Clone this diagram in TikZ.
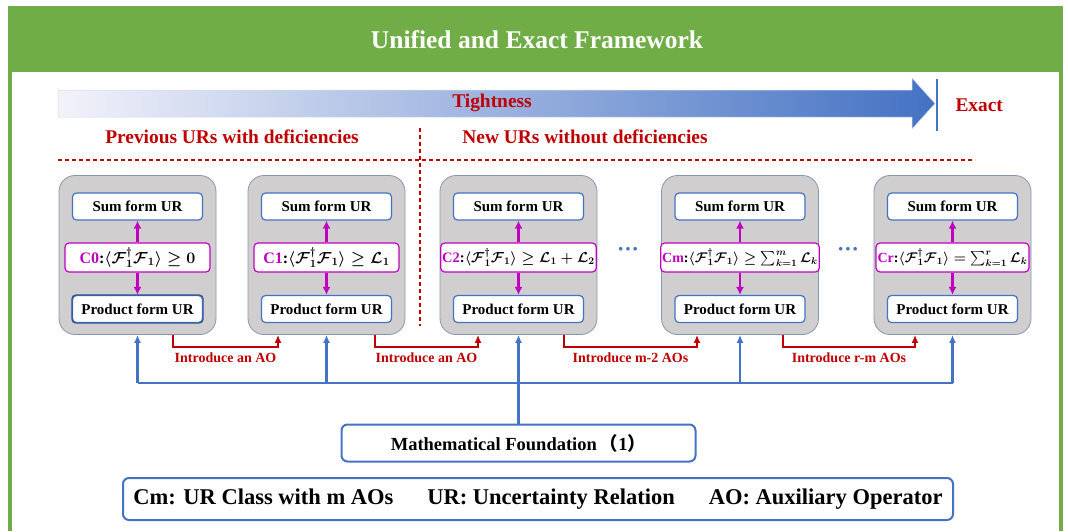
\RequirePackage{fix-cm}
\documentclass[tikz,border=0pt]{standalone}
\usepackage{amsmath,bm}
\usepackage[no-math]{fontspec}
\setmainfont{Liberation Serif}
\newfontfamily\cjk{Noto Sans CJK SC}
\usetikzlibrary{positioning,calc,arrows.meta}

\definecolor{frgreen}{HTML}{70AD47}
\definecolor{urred}{HTML}{C00000}
\definecolor{urblue}{HTML}{4472C4}
\definecolor{urdeep}{HTML}{2F5597}
\definecolor{urmag}{HTML}{C000C0}
\definecolor{urgray}{HTML}{D0CECE}
\definecolor{uredge}{HTML}{8497B0}
\definecolor{tightlo}{HTML}{F2F2FA}

% ky hieu
\newcommand{\FF}{\langle\bm{\mathcal{F}}_{\bm 1}^{\dagger}\bm{\mathcal{F}}_{\bm 1}\rangle}
\newcommand{\LL}[1]{\bm{\mathcal{L}}_{\bm{#1}}}
\newcommand{\sz}[1]{\fontsize{#1}{#1}\selectfont\bfseries}

\tikzset{
  grp/.style={draw=uredge, fill=urgray, rounded corners=16pt, line width=0.8pt,
    minimum width=157pt, minimum height=159pt},
  urbox/.style={draw=urblue, fill=white, rounded corners=4pt, line width=1.2pt,
    minimum width=130pt, minimum height=27pt, inner sep=0pt, font=\sz{15}},
  condbox/.style={draw=urmag, fill=white, rounded corners=4pt, line width=1.2pt,
    minimum width=145pt, minimum height=29pt, inner sep=1.5pt},
  marr/.style={urmag, line width=2.6pt, -{Latex[length=8pt,width=8pt]}},
  aoline/.style={urred, line width=2pt, ->},
  aolab/.style={text=urred, font=\sz{14}, inner sep=1pt},
  busline/.style={urblue, line width=2.5pt},
  busarr/.style={urblue, line width=2.5pt, ->},
  redtxt/.style={text=urred, font=\sz{19.4}},
  bluebox/.style={draw=urblue, rounded corners=6pt, line width=2pt, fill=white},
  redsep/.style={urred, line width=1.2pt, dash pattern=on 4pt off 3pt}
}

\begin{document}
\begin{tikzpicture}[>={Latex[length=8pt,width=7pt]}, x=1pt, y=-1pt]
    \useasboundingbox (0,0) rectangle (1068,531);
    \fill[white] (0,0) rectangle (1068,531);

    % Khung ngoai
    \fill[frgreen] (8,6) rectangle (1063,72);
    \draw[frgreen, line width=4pt] (10,72) -- (10,531);
    \draw[frgreen, line width=4pt] (1061,72) -- (1061,531);
    \node[text=white, font=\sz{25.5}] (title) at (537,40) {Unified and Exact Framework};

    % Mui ten do chat
    \shade[left color=tightlo, right color=urblue, draw=urblue!25, line width=0.5pt]
        (58,90) -- (912,90) -- (912,78) -- (935,103.5) -- (912,129) -- (912,117) -- (58,117) -- cycle;
    \node[redtxt] (tight) at (492,103) {Tightness};
    \draw[urblue, line width=2.5pt] (937,79) -- (937,131);
    \node[redtxt, anchor=west] (exact) at (952,105) {Exact};

    % Hai nhom
    \node[redtxt] (prev) at (232,137) {Previous URs with deficiencies};
    \node[redtxt] (new) at (585,137) {New URs without deficiencies};
    \draw[redsep] (58,160) -- (975,160);
    \draw[redsep] (420,128) -- (420,326);

    % Cac lop UR
    \foreach \i/\x/\fs/\lab/\rel in {1/137.5/16/C0/{\geq \bm{0}},
                                     2/326.5/16/C1/{\geq \LL{1}},
                                     3/518.5/14.5/C2/{\geq \LL{1}+\LL{2}},
                                     4/740/14/Cm/{\geq \textstyle\sum_{k=1}^{m}\LL{k}},
                                     5/952.5/14/Cr/{= \textstyle\sum_{k=1}^{r}\LL{k}}} {
        \node[grp] (g\i) at (\x,255) {};
        \node[urbox] (s\i) at (\x,206.5) {Sum form UR};
        \node[urbox] (p\i) at (\x,309) {Product form UR};
        \node[condbox, font=\sz{\fs}\boldmath] (c\i) at (\x,257.5) {{\color{urmag}\lab}:$\FF \rel$};
        \draw[marr] (c\i.north) -- (s\i.south);
        \draw[marr] (c\i.south) -- (p\i.north);
    }
    \draw[urdeep, line width=1.2pt, rounded corners=4pt] (p1.south west) rectangle (p1.north east);

    \node[text=urblue, font=\sz{22}] (dots1) at (628,252) {···};
    \node[text=urblue, font=\sz{22}] (dots2) at (848,252) {···};

    % Them toan tu phu
    \draw[aoline] ([xshift=35.5pt]g1.south) -- ++(0,12)
        -| node[pos=.25, below=4pt, aolab] {Introduce an AO} ([xshift=-48.5pt]g2.south);
    \draw[aoline] ([xshift=48.5pt]g2.south) -- ++(0,12)
        -| node[pos=.25, below=4pt, aolab] {Introduce an AO} ([xshift=-40.5pt]g3.south);
    \draw[aoline] ([xshift=45.5pt]g3.south) -- ++(0,12)
        -| node[pos=.25, below=4pt, aolab] {Introduce m-2 AOs} ([xshift=-43pt]g4.south);
    \draw[aoline] ([xshift=43pt]g4.south) -- ++(0,12)
        -| node[pos=.25, below=4pt, aolab] {Introduce r-m AOs} ([xshift=-37.5pt]g5.south);

    % Co so toan hoc
    \node[bluebox, minimum width=354pt, minimum height=37pt, font=\sz{18.5}] (mf) at (518.5,443)
        {Mathematical Foundation\,{\cjk （}1{\cjk ）}};
    \coordinate (bus) at (0,383);
    \draw[busline] (g1.south |- bus) -- (g5.south |- bus);
    \foreach \i in {1,2,4,5}
        \draw[busarr] (g\i.south |- bus) -- (g\i.south);
    \draw[busarr] (mf.north) -- (g3.south);

    % Chu thich
    \node[bluebox, minimum width=830pt, minimum height=42pt, font=\sz{22.5}] (legend) at (538,499)
        {Cm: UR Class with m AOs\hspace{34pt}UR: Uncertainty Relation\hspace{34pt}AO: Auxiliary Operator};
\end{tikzpicture}
\end{document}
